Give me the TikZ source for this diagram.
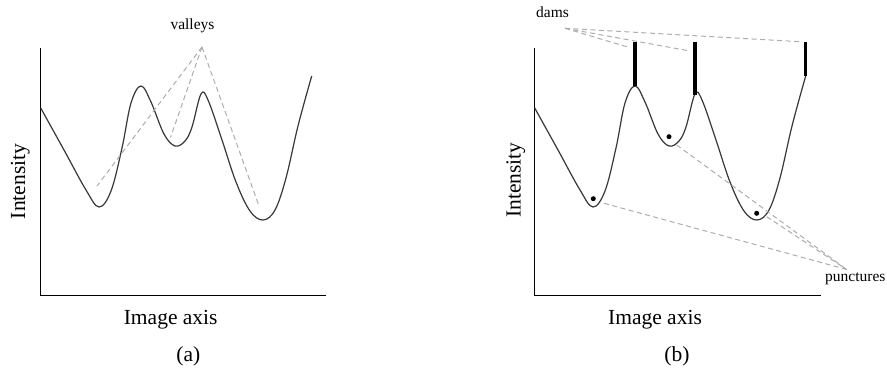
\documentclass[tikz,border=0pt]{standalone}
\usepackage{fontspec}
\setmainfont{Liberation Serif}
\begin{document}
\begin{tikzpicture}[x=1pt,y=-1pt,
  axisline/.style={line width=1pt,black},
  curveline/.style={line width=1.2pt,draw=black!78,line join=round},
  guide/.style={line width=1pt,draw=black!32,dash pattern=on 5pt off 3.5pt},
  damline/.style={line width=3.2pt,black},
  biglabel/.style={font=\fontsize{21.5}{25}\selectfont,inner sep=0pt},
  smalllabel/.style={font=\fontsize{15.5}{18}\selectfont,inner sep=0pt},
  dot/.style={circle,fill=black,inner sep=0pt,minimum size=5pt}]
\useasboundingbox (0,0) rectangle (887,374);
\fill[white] (0,0) rectangle (887,374);

\def\profile{plot[smooth,tension=0.6] coordinates {(40.7,108) (64,150) (86,190) (99,207) (111,191) (122,148) (131,103) (141,86) (151,102) (164,134) (175,146) (185,141) (192,127) (201,94) (208,100) (222,140) (236,182) (250,211) (263,220) (275,210) (286,178) (298,126) (311.7,76)}}

% ---------- panel (a)
\coordinate (aO) at (40.7,296);
\coordinate (aT) at (40.7,48);
\coordinate (aR) at (326,296);
\draw[axisline] (aT) -- (aO) -- (aR);
\draw[curveline] \profile;
\node[smalllabel,anchor=base] (valleys) at (192.5,30) {valleys};
\coordinate (vapex) at (202,47);
\coordinate (v1) at (97,186);
\coordinate (v2) at (170.5,137.5);
\coordinate (v3) at (258.3,204);
\draw[guide] (vapex) -- (v1);
\draw[guide] (vapex) -- (v2);
\draw[guide] (vapex) -- (v3);
\node[biglabel,rotate=90,anchor=base] (ia) at (25,181.5) {Intensity};
\node[biglabel,anchor=base] (xa) at (170.7,325) {Image axis};
\node[biglabel,anchor=base] (capa) at (188.3,361) {(a)};

% ---------- panel (b)
\coordinate (bO) at (534.7,296);
\coordinate (bT) at (534.7,48);
\coordinate (bR) at (820.7,296);
\draw[axisline] (bT) -- (bO) -- (bR);
\begin{scope}[xshift=494pt]
\draw[curveline] \profile;
\end{scope}
% dams
\coordinate (d1t) at (635,41.7);  \coordinate (d1b) at (635,86);
\coordinate (d2t) at (695,41.7); \coordinate (d2b) at (695,95);
\coordinate (d3t) at (805.7,41.7); \coordinate (d3b) at (805.7,76.5);
\draw[damline] (d1t) -- (d1b);
\draw[damline] (d2t) -- (d2b);
\draw[damline] (d3t) -- (d3b);
\node[smalllabel,anchor=base] (dams) at (552.5,17.3) {dams};
\coordinate (dapex) at (565,28.3);
\coordinate (e1) at (626.7,46.7);
\coordinate (e2) at (688.3,50.7);
\coordinate (e3) at (800,41.7);
\draw[guide] (dapex) -- (e1);
\draw[guide] (dapex) -- (e2);
\draw[guide] (dapex) -- (e3);
% punctures
\node[dot] (p1) at (593.3,198.7) {};
\node[dot] (p2) at (669,136.7) {};
\node[dot] (p3) at (756.7,213.3) {};
\node[smalllabel,anchor=base west] (punct) at (825,282) {punctures};
\coordinate (papex) at (846.7,269.5);
\coordinate (s1) at (604,203.3);
\coordinate (s2) at (676.7,145);
\coordinate (s3) at (766.7,216.7);
\draw[guide] (s1) -- (papex);
\draw[guide] (s2) -- (papex);
\draw[guide] (s3) -- (papex);
\node[biglabel,rotate=90,anchor=base] (ib) at (520.5,180) {Intensity};
\node[biglabel,anchor=base] (xb) at (655,325) {Image axis};
\node[biglabel,anchor=base] (capb) at (677,361) {(b)};
\end{tikzpicture}
\end{document}
